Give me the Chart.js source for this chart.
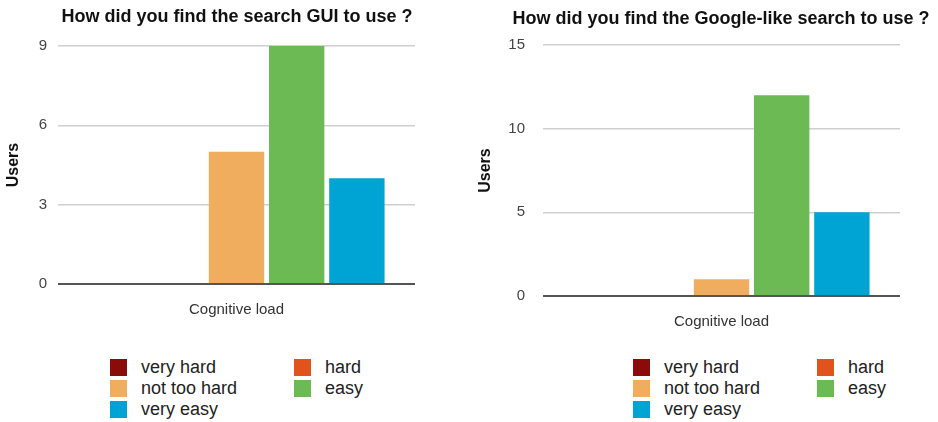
<!DOCTYPE html>
<html>
<head>
<meta charset="utf-8">
<script src="https://cdn.jsdelivr.net/npm/chart.js@4/dist/chart.umd.min.js"></script>
<style>
  body { margin: 0; background: #fff; font-family: "Liberation Sans", Arial, sans-serif; }
  #wrap { position: relative; width: 938px; height: 422px; overflow: hidden; }
  .box { position: absolute; top: 0; height: 330px; }
  .title { position: absolute; width: 500px; margin-left: -250px; text-align: center;
           font-size: 18px; font-weight: bold; color: #111; line-height: 20px; white-space: nowrap; }
  .legend { position: absolute; top: 357px; display: flex; flex-wrap: wrap; width: 370px; }
  .legend .item { display: flex; align-items: center; width: 184px; height: 21px; font-size: 18px; color: #222; }
  .legend .sw { width: 17px; height: 17px; margin-right: 14px; flex: none; }
</style>
</head>
<body>
<div id="wrap">
  <div class="box" style="left:0;width:470px"><canvas id="gui"></canvas></div>
  <div class="box" style="left:470px;width:468px"><canvas id="google"></canvas></div>
  <div class="title" style="left:237px;top:6px">How did you find the search GUI to use ?</div>
  <div class="title" style="left:721px;top:8px">How did you find the Google-like search to use ?</div>
  <div class="legend" id="gui-legend" style="left:110px"></div>
  <div class="legend" id="google-legend" style="left:633px"></div>
</div>
<script>
const categories = ["Cognitive load"];
const levels = ["very hard", "hard", "not too hard", "easy", "very easy"];
const levelColors = ["#8b0b0b", "#e2531c", "#f0ad5e", "#6cba53", "#00a4d4"];
const guiCounts = [0, 0, 5, 9, 4];
const googleCounts = [0, 0, 1, 12, 5];

function makeChart(id, counts, opts) {
  const datasets = levels.map((name, i) => ({
    label: name,
    data: [counts[i]],
    backgroundColor: levelColors[i],
    borderWidth: 0,
    categoryPercentage: 0.843,
    barPercentage: 0.92,
  }));
  return new Chart(document.getElementById(id), {
    type: "bar",
    data: { labels: categories, datasets: datasets },
    options: {
      responsive: true,
      maintainAspectRatio: false,
      animation: false,
      layout: { padding: opts.padding },
      plugins: {
        legend: { display: false },
        tooltip: { enabled: false },
      },
      scales: {
        x: {
          grid: { display: false },
          border: { display: false },
          ticks: { color: "#333", padding: 9, font: { family: "Liberation Sans", size: 15 } },
          afterFit: (s) => { s.height = opts.xHeight; },
        },
        y: {
          min: 0,
          max: opts.max,
          ticks: {
            stepSize: opts.step,
            color: "#444",
            padding: opts.tickPad,
            font: { family: "Liberation Sans", size: 15 },
          },
          grid: {
            drawTicks: false,
            color: (c) => (c.tick && c.tick.value === 0 ? "#555" : "#cfcfcf"),
            lineWidth: (c) => (c.tick && c.tick.value === 0 ? 2 : 1.5),
          },
          border: { display: false },
          title: {
            display: true,
            text: "Users",
            color: "#111",
            padding: 0,
            font: { family: "Liberation Sans", size: 16, weight: "bold" },
          },
          afterFit: (s) => { s.width = opts.yWidth; },
        },
      },
    },
  });
}

function makeLegend(id) {
  const el = document.getElementById(id);
  levels.forEach((name, i) => {
    const item = document.createElement("div");
    item.className = "item";
    item.innerHTML = '<span class="sw" style="background:' + levelColors[i] + '"></span>' + name;
    el.appendChild(item);
  });
}

makeChart("gui", guiCounts, {
  padding: { left: 4, right: 55, top: 46, bottom: 0 },
  xHeight: 46, yWidth: 54, tickPad: 11, max: 9, step: 3,
});
makeChart("google", googleCounts, {
  padding: { left: 6, right: 38, top: 45, bottom: 0 },
  xHeight: 34, yWidth: 67, tickPad: 18, max: 15, step: 5,
});
makeLegend("gui-legend");
makeLegend("google-legend");
</script>
</body>
</html>
